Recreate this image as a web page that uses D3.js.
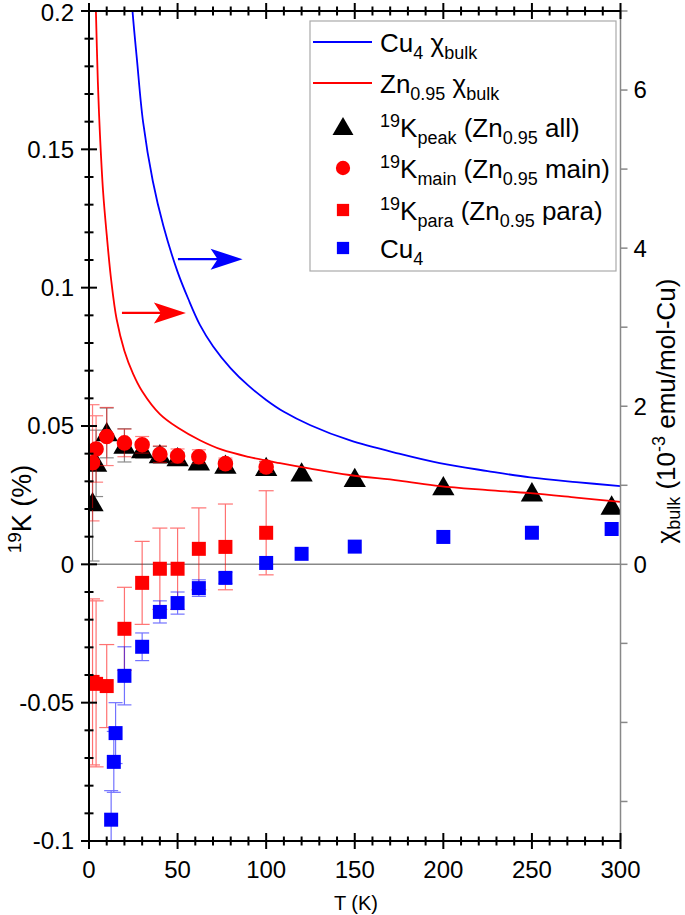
<!DOCTYPE html>
<html><head><meta charset="utf-8">
<script src="https://cdn.jsdelivr.net/npm/d3@7"></script>
<style>html,body{margin:0;padding:0;background:#fff;}svg{display:block;font-family:"Liberation Sans",Arial,sans-serif;}</style>
</head><body>
<svg id="c" width="685" height="915"></svg>
<script>
// ---- data ----
const peakT   = [2, 4, 10, 20, 30, 40, 50, 62, 77, 100, 120, 150, 200, 250, 295];
const peakK   = [0.0222, 0.0365, 0.0475, 0.0430, 0.0414, 0.0396, 0.0385, 0.0370, 0.0358, 0.0350, 0.0330, 0.0310, 0.0280, 0.0258, 0.0210];
const peakErr = [0.021, 0.012, 0.009, 0.006, 0.003, 0.003, 0.002, 0.002, 0.002, 0.002, 0, 0, 0, 0, 0];

const mainT   = [2, 4, 10, 20, 30, 40, 50, 62, 77, 100];
const mainK   = [0.0367, 0.0417, 0.0462, 0.0439, 0.0432, 0.0398, 0.0392, 0.0389, 0.0364, 0.0352];
const mainErr = [0.021, 0.012, 0.0105, 0.005, 0.003, 0.003, 0.0025, 0.0025, 0.002, 0.002];

const paraT   = [2, 4, 10, 20, 30, 40, 50, 62, 77, 100];
const paraK   = [-0.0425, -0.0432, -0.0440, -0.0233, -0.0067, -0.0016, -0.0016, 0.0056, 0.0063, 0.0114];
const paraErr = [0.030, 0.030, 0.015, 0.015, 0.015, 0.0147, 0.0147, 0.0148, 0.0155, 0.0152];

const cuT   = [12.5, 14, 15, 20, 30, 40, 50, 62, 77, 100, 120, 150, 200, 250, 295];
const cuK   = [-0.0923, -0.0714, -0.0610, -0.0403, -0.0298, -0.0172, -0.0140, -0.0086, -0.0049, 0.0005, 0.0038, 0.0064, 0.0099, 0.0114, 0.0128];
const cuErr = [0.0105, 0.011, 0.011, 0.0105, 0.005, 0.004, 0.004, 0.003, 0.002, 0, 0, 0, 0, 0, 0];

const chiCuT = [22, 24.7, 27, 30.5, 36, 42, 50, 56, 62.6, 70, 80, 90, 100, 110, 125, 147, 175, 198, 225, 249, 275, 300];
const chiCu  = [7.8, 6.96, 6.4, 5.6, 4.85, 4.28, 3.70, 3.36, 3.03, 2.76, 2.48, 2.26, 2.08, 1.93, 1.76, 1.57, 1.40, 1.28, 1.18, 1.10, 1.04, 0.99];

const chiZnT = [3.2, 3.95, 5, 6.2, 8, 10, 12.5, 15.6, 20, 24.9, 30, 40, 50, 62.6, 75, 90, 107.8, 125, 147, 175, 198, 225, 249, 275, 300];
const chiZn  = [7.6, 6.96, 6.1, 5.43, 4.7, 4.17, 3.6, 3.10, 2.70, 2.41, 2.19, 1.90, 1.73, 1.57, 1.45, 1.36, 1.28, 1.21, 1.13, 1.06, 0.99, 0.94, 0.90, 0.845, 0.79];

const xTicksMajor = [0, 50, 100, 150, 200, 250, 300];
const yTicksMajor = [-0.1, -0.05, 0, 0.05, 0.1, 0.15, 0.2];
const yTickLabels = ["-0.1", "-0.05", "0", "0.05", "0.1", "0.15", "0.2"];
const y2TickLabels = [0, 2, 4, 6];

// arrows in data coords (T, chi)
const blueArrow = {t0: 50.2, t1: 86.7, chi: 3.86};
const redArrow  = {t0: 18.6, t1: 54.7, chi: 3.18};

// ---- layout ----
const svg = d3.select("#c");
const L = 89, R = 620.5, T = 11, B = 841;
const x = d3.scaleLinear().domain([0, 300]).range([L, R]);
const y = d3.scaleLinear().domain([-0.1, 0.2]).range([B, T]);
const y2 = d3.scaleLinear().domain([-3.5, 7]).range([B, T]);

svg.append("clipPath").attr("id", "clip").append("rect")
  .attr("x", L).attr("y", T).attr("width", R - L).attr("height", B - T);

const plot = svg.append("g").attr("clip-path", "url(#clip)");

// zero line
plot.append("line").attr("x1", L).attr("x2", R).attr("y1", y(0)).attr("y2", y(0))
  .attr("stroke", "#888").attr("stroke-width", 1.5);

function errBars(g, Ts, Ks, Es, color, cap, op) {
  const d = Ts.map((t, i) => ({t, k: Ks[i], e: Es[i]})).filter(o => o.e > 0);
  const eg = g.append("g").attr("stroke", color).attr("stroke-width", 1.2).attr("opacity", op);
  d.forEach(o => {
    const cx = x(o.t);
    eg.append("line").attr("x1", cx).attr("x2", cx).attr("y1", y(o.k + o.e)).attr("y2", y(o.k - o.e));
    [o.k + o.e, o.k - o.e].forEach(v => {
      eg.append("line").attr("x1", cx - cap / 2).attr("x2", cx + cap / 2).attr("y1", y(v)).attr("y2", y(v));
    });
  });
}

const triPath = d3.symbol().type(d3.symbolTriangle).size(215)();
const circPath = d3.symbol().type(d3.symbolCircle).size(190)();
const sqPath = d3.symbol().type(d3.symbolSquare).size(196)();

// triangles
plot.append("g").selectAll("path").data(peakT.map((t, i) => [t, peakK[i]])).join("path")
  .attr("d", triPath).attr("transform", d => `translate(${x(d[0])},${y(d[1]) + 2})`).attr("fill", "#000");
errBars(plot, peakT, peakK, peakErr, "#000", 14, 0.45);

// circles
plot.append("g").selectAll("path").data(mainT.map((t, i) => [t, mainK[i]])).join("path")
  .attr("d", circPath).attr("transform", d => `translate(${x(d[0])},${y(d[1])})`).attr("fill", "#ff0000");
errBars(plot, mainT, mainK, mainErr, "#ff0000", 14, 0.5);

// red squares
plot.append("g").selectAll("path").data(paraT.map((t, i) => [t, paraK[i]])).join("path")
  .attr("d", sqPath).attr("transform", d => `translate(${x(d[0])},${y(d[1])})`).attr("fill", "#ff0000");
errBars(plot, paraT, paraK, paraErr, "#ff0000", 15, 0.55);

// blue squares
plot.append("g").selectAll("path").data(cuT.map((t, i) => [t, cuK[i]])).join("path")
  .attr("d", sqPath).attr("transform", d => `translate(${x(d[0])},${y(d[1])})`).attr("fill", "#0000ff");
errBars(plot, cuT, cuK, cuErr, "#0000ff", 14, 0.55);

// curves
const line = d3.line().x(d => x(d[0])).y(d => y2(d[1])).curve(d3.curveCatmullRom.alpha(0.5));
plot.append("path").datum(chiCuT.map((t, i) => [t, chiCu[i]])).attr("d", line)
  .attr("fill", "none").attr("stroke", "#0000ff").attr("stroke-width", 1.8);
plot.append("path").datum(chiZnT.map((t, i) => [t, chiZn[i]])).attr("d", line)
  .attr("fill", "none").attr("stroke", "#ff0000").attr("stroke-width", 1.8);

// arrows
function arrow(a, color) {
  const x0 = x(a.t0), x1 = x(a.t1), yy = y2(a.chi);
  svg.append("line").attr("x1", x0).attr("x2", x1 - 24).attr("y1", yy).attr("y2", yy)
    .attr("stroke", color).attr("stroke-width", 2.2);
  svg.append("path").attr("d", `M${x1},${yy} L${x1 - 32},${yy - 10.5} L${x1 - 25},${yy} L${x1 - 32},${yy + 10.5} Z`)
    .attr("fill", color);
}
arrow(blueArrow, "#0000ff");
arrow(redArrow, "#ff0000");

// ---- axes ----
const ax = svg.append("g").attr("stroke-linecap", "butt");
// right axis (gray)
ax.append("line").attr("x1", R).attr("x2", R).attr("y1", T).attr("y2", B).attr("stroke", "#888").attr("stroke-width", 1.5);
d3.range(-3, 8).forEach(v => {
  ax.append("line").attr("x1", R).attr("x2", R + 7).attr("y1", y2(v)).attr("y2", y2(v)).attr("stroke", "#888").attr("stroke-width", 1.5);
});
svg.append("g").selectAll("text").data(y2TickLabels).join("text")
  .attr("x", R + 13).attr("y", d => y2(d)).attr("dy", "0.35em").attr("font-size", 24).text(d => d);

// left axis
ax.append("line").attr("x1", L).attr("x2", L).attr("y1", T).attr("y2", B).attr("stroke", "#000").attr("stroke-width", 2);
d3.range(-10, 21).forEach(i => {
  const v = i / 100, major = i % 5 === 0, h = major ? 8 : 4.5;
  ax.append("line").attr("x1", L - h).attr("x2", L + h).attr("y1", y(v)).attr("y2", y(v)).attr("stroke", "#000").attr("stroke-width", 2);
});
svg.append("g").selectAll("text").data(yTicksMajor).join("text")
  .attr("x", L - 15).attr("y", d => y(d) + (d === 0.2 ? 2 : 0)).attr("dy", "0.35em").attr("text-anchor", "end").attr("font-size", 24)
  .text((d, i) => yTickLabels[i]);

// bottom and top axes
[B, T].forEach(yy => {
  ax.append("line").attr("x1", L).attr("x2", R).attr("y1", yy).attr("y2", yy).attr("stroke", "#000").attr("stroke-width", 2);
  d3.range(0, 31).forEach(i => {
    const v = i * 10, major = i % 5 === 0, h = major ? 8 : 4.5;
    ax.append("line").attr("x1", x(v)).attr("x2", x(v)).attr("y1", yy - h).attr("y2", yy + h).attr("stroke", "#000").attr("stroke-width", 2);
  });
});
svg.append("g").selectAll("text").data(xTicksMajor).join("text")
  .attr("x", d => x(d)).attr("y", 878).attr("text-anchor", "middle").attr("font-size", 24).text(d => d);

// rich text helper
function rich(sel, parts, base, subF = 0.28) {
  const small = Math.round(base * 0.7);
  let shift = 0;
  parts.forEach(p => {
    const target = p.s === "sub" ? base * subF : p.s === "sup" ? -base * 0.38 : 0;
    sel.append("tspan").attr("dy", target - shift).attr("font-size", p.s ? small : base).text(p.t);
    shift = target;
  });
}

// axis titles
svg.append("text").attr("x", 356).attr("y", 910).attr("text-anchor", "middle").attr("font-size", 20).text("T (K)");
const lt = svg.append("text").attr("transform", "translate(31,509) rotate(-90)").attr("text-anchor", "middle").attr("font-size", 27);
rich(lt, [{t: "19", s: "sup"}, {t: "K (%)"}], 27);
const rt = svg.append("text").attr("transform", "translate(675,411) rotate(-90)").attr("text-anchor", "middle").attr("font-size", 26);
rich(rt, [{t: "χ"}, {t: "bulk", s: "sub"}, {t: " (10"}, {t: "-3", s: "sup"}, {t: " emu/mol-Cu)"}], 26, 0.2);

// ---- legend ----
const lg = svg.append("g");
lg.append("rect").attr("x", 310).attr("y", 21).attr("width", 306).attr("height", 250)
  .attr("fill", "#fff").attr("stroke", "#aaa").attr("stroke-width", 1.2);
const legendItems = [
  {type: "line", color: "#0000ff", y: 42, parts: [{t: "Cu"}, {t: "4", s: "sub"}, {t: " χ"}, {t: "bulk", s: "sub"}]},
  {type: "line", color: "#ff0000", y: 83, parts: [{t: "Zn"}, {t: "0.95", s: "sub"}, {t: " χ"}, {t: "bulk", s: "sub"}]},
  {type: "tri", color: "#000", y: 127, parts: [{t: "19", s: "sup"}, {t: "K"}, {t: "peak", s: "sub"}, {t: " (Zn"}, {t: "0.95", s: "sub"}, {t: " all)"}]},
  {type: "circ", color: "#ff0000", y: 168, parts: [{t: "19", s: "sup"}, {t: "K"}, {t: "main", s: "sub"}, {t: " (Zn"}, {t: "0.95", s: "sub"}, {t: " main)"}]},
  {type: "sq", color: "#ff0000", y: 210, parts: [{t: "19", s: "sup"}, {t: "K"}, {t: "para", s: "sub"}, {t: " (Zn"}, {t: "0.95", s: "sub"}, {t: " para)"}]},
  {type: "sq", color: "#0000ff", y: 248, parts: [{t: "Cu"}, {t: "4", s: "sub"}]}
];
legendItems.forEach(it => {
  if (it.type === "line") {
    lg.append("line").attr("x1", 313).attr("x2", 372).attr("y1", it.y).attr("y2", it.y).attr("stroke", it.color).attr("stroke-width", 1.8);
  } else {
    const p = it.type === "tri" ? d3.symbol().type(d3.symbolTriangle).size(190)() :
              it.type === "circ" ? d3.symbol().type(d3.symbolCircle).size(160)() :
              d3.symbol().type(d3.symbolSquare).size(150)();
    lg.append("path").attr("d", p).attr("transform", `translate(343,${it.y + (it.type === "tri" ? 2 : 0)})`).attr("fill", it.color);
  }
  const t = lg.append("text").attr("x", 380).attr("y", it.y + 10).attr("font-size", 26);
  rich(t, it.parts, 26);
});
</script>
</body></html>
